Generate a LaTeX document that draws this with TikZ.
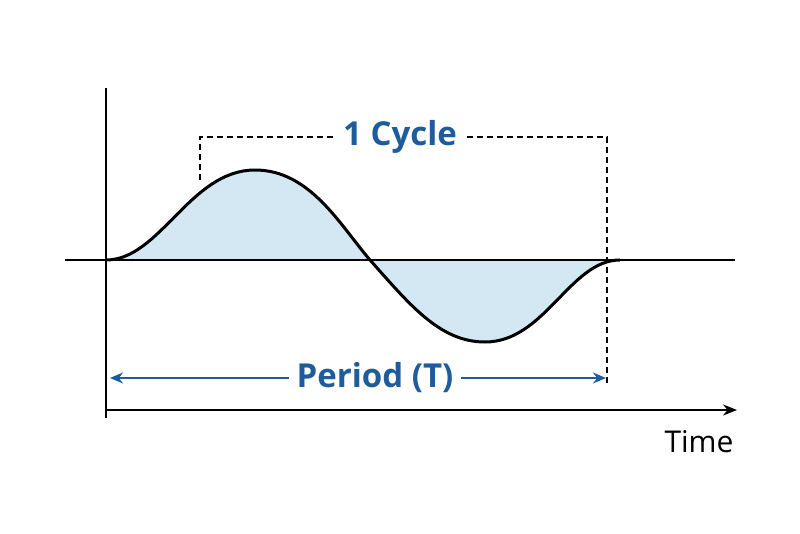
\documentclass[tikz,border=0pt]{standalone}
\usepackage{fontspec}
\setmainfont{Open Sans}
\usetikzlibrary{arrows.meta}
\definecolor{cycleblue}{HTML}{1F5C9C}
\definecolor{wavefill}{HTML}{D3E8F2}
\begin{document}
\begin{tikzpicture}[x=1pt,y=-1pt,
        axis/.style={line width=1.6pt},
        wave/.style={line width=3pt},
        guide/.style={dash pattern=on 6pt off 4pt, line width=1.1pt},
        span/.style={draw=cycleblue, line width=2.2pt, {Stealth[length=13pt,width=11pt]}-{Stealth[length=13pt,width=11pt]}},
        label/.style={text=cycleblue, font=\bfseries\fontsize{33}{38}\selectfont, fill=white, inner sep=8pt} ]
    \useasboundingbox (0,0) rectangle (800,533);
    % shaded wave
    \fill[wavefill] (106,260) .. controls (160,260) and (190,170) .. (255,170)
        .. controls (310,170) and (340,225) .. (370,260)
        .. controls (410,305) and (440,342) .. (485,342)
        .. controls (545,342) and (570,260) .. (620,260) -- cycle;
    \coordinate (ytop) at (106,88);
    \coordinate (ybot) at (106,418);
    \coordinate (base0) at (65,260);
    \coordinate (base1) at (735,260);
    \coordinate (t0) at (106,410);
    \coordinate (t1) at (737,410);
    \draw[axis] (ytop) -- (ybot);
    \draw[axis] (base0) -- (base1);
    \draw[axis, -{Stealth[length=14pt,width=11pt]}] (t0) -- (t1);
    \node[font=\fontsize{30}{34}\selectfont, anchor=base east] (time) at (737,452) {Time};
    \draw[wave] (106,260) .. controls (160,260) and (190,170) .. (255,170)
        .. controls (310,170) and (340,225) .. (370,260)
        .. controls (410,305) and (440,342) .. (485,342)
        .. controls (545,342) and (570,260) .. (620,260);
    % cycle bracket
    \coordinate (c0) at (200,180);
    \coordinate (c1) at (200,137);
    \coordinate (c2) at (607,137);
    \coordinate (c3) at (607,383);
    \draw[guide] (c0) -- (c1) -- (c2) -- (c3);
    \node[label] (cycle) at (400,137) {1 Cycle};
    % period
    \coordinate (p0) at (110,378);
    \coordinate (p1) at (606,378);
    \draw[span] (p0) -- (p1);
    \node[label] (period) at (375,378) {Period (T)};
\end{tikzpicture}
\end{document}
